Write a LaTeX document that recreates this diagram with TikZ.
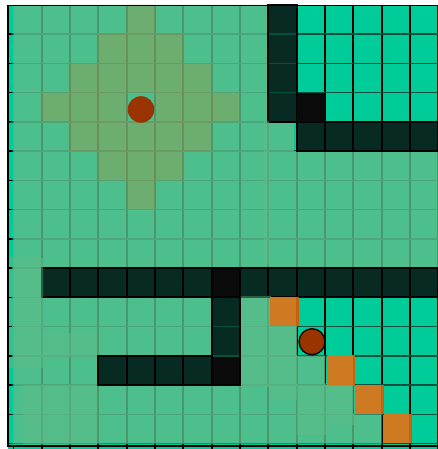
\documentclass[tikz,border=0pt]{standalone}
\definecolor{tealbase}{RGB}{0,204,153}
\definecolor{ovgreen}{RGB}{95,188,137}
\definecolor{wallc}{RGB}{7,43,34}
\definecolor{blackc}{RGB}{10,10,10}
\definecolor{orangec}{RGB}{206,120,32}
\definecolor{trailc}{RGB}{206,122,34}
\definecolor{trailedge}{RGB}{200,96,16}
\definecolor{agentc}{RGB}{153,51,0}
\definecolor{hline}{RGB}{6,80,62}
\newcommand\XX[1]{13.3+28.33*(#1)}
\newcommand\YY[1]{4.8+29.25*(#1)}
\newcommand\blk[4]{({\XX{#1}},{\YY{#2}}) rectangle ({\XX{#3+1}},{\YY{#4+1}})}
\tikzset{
  overlay/.style={fill=ovgreen, fill opacity=0.8},
  faint/.style={fill=ovgreen, fill opacity=0.5},
  olive/.style={fill=orangec, fill opacity=0.25},
  walledge/.style={draw=black, line width=2pt},
  vline/.style={draw=black, line width=2pt},
  hgrid/.style={draw=hline, line width=1.5pt},
  trail/.style={fill=trailc},
  trailrim/.style={fill=trailedge},
  agent/.style={fill=agentc},
  frame/.style={draw=black},
}
\begin{document}
\begin{tikzpicture}[x=1pt,y=-1pt]
\useasboundingbox (0,0) rectangle (438,449);
\clip (0,0) rectangle (438,449);
% base
\fill[tealbase] (8,5) rectangle (440,449);
% walls (fill)
\fill[wallc] \blk{9}{0}{9}{3} \blk{10}{4}{14}{4} \blk{1}{9}{14}{9} \blk{7}{10}{7}{11} \blk{3}{12}{6}{12};
\fill[blackc] \blk{10}{3}{10}{3} \blk{7}{9}{7}{9} \blk{7}{12}{7}{12};
% grid lines
\foreach \k in {1,...,15} {\draw[vline] ({\XX{\k}},5) -- ({\XX{\k}},449);}
\foreach \k in {1,...,15} {\draw[hgrid] (8,{\YY{\k}}) -- (440,{\YY{\k}});}
% observed area overlay
\fill[overlay] \blk{0}{0}{8}{3} \blk{0}{4}{8}{4} ({\XX{9}-5},{\YY{4}}) rectangle (294,{\YY{5}})
  \blk{0}{5}{14}{8} \blk{0}{9}{0}{9} \blk{0}{10}{6}{11} \blk{8}{10}{9}{11}
  \blk{0}{12}{2}{12} \blk{8}{12}{10}{12} \blk{0}{13}{11}{13} \blk{0}{14}{12}{14};
% wall outlines
\draw[walledge] \blk{9}{0}{9}{3} \blk{10}{4}{14}{4} \blk{1}{9}{14}{9} \blk{7}{10}{7}{12} \blk{3}{12}{6}{12};
\fill[blackc] \blk{10}{3}{10}{3};
% view diamond
\fill[olive] \blk{4}{0}{4}{0} \blk{3}{1}{5}{1} \blk{2}{2}{6}{2} \blk{1}{3}{3}{3} \blk{5}{3}{7}{3}
  \blk{2}{4}{6}{4} \blk{3}{5}{5}{5} \blk{4}{6}{4}{6};
% faint lighter patches
\fill[faint] (9,258) rectangle (43,368) (9,333) rectangle (97,357) (23,385) rectangle (97,445)
  (263.5,121) rectangle (268.8,265) (241,296) rectangle (271,387) (270,325) rectangle (297,400)
  (297,385) rectangle (327,435) (325,383) rectangle (355,425);
% trail cells
\foreach \c/\r in {9/10,11/12,12/13,13/14}
  {\fill[trail] ({\XX{\c}+2},{\YY{\r}-0.5}) rectangle ++(28.33,29.25);
   \fill[trailrim] ({\XX{\c+1}-0.6},{\YY{\r}-0.5}) rectangle ({\XX{\c+1}+2},{\YY{\r+1}-0.5});}
% agents
\fill[agent] (141,109.5) circle (13.3);
\filldraw[agent, draw=black, line width=1.3pt] (312,341.7) circle (13);
% frame
\draw[frame, line width=2.4pt] (7.9,4.6) -- (7.9,447);
\draw[frame, line width=1.6pt] (6.7,5.6) -- (440,5.6);
\draw[frame, line width=2pt] (6.7,445.7) -- (440,445.7);
\foreach \k in {1,...,14} {\draw[frame, line width=1.4pt] (8,{\YY{\k}}) -- (12,{\YY{\k}});}
\foreach \k in {0,...,14} {\draw[frame, line width=1.5pt] ({\XX{\k}},445) -- ({\XX{\k}},449);}
\end{tikzpicture}
\end{document}
